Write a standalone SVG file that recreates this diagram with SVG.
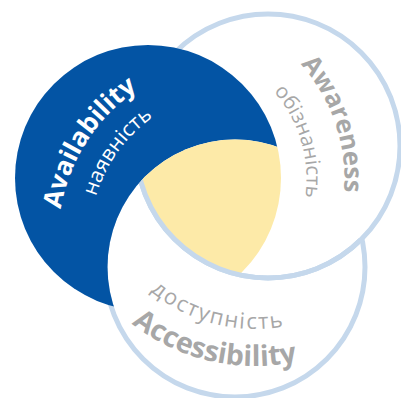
<svg xmlns="http://www.w3.org/2000/svg" width="401" height="398" viewBox="0 0 401 398">
<style>
.ring{fill:#fff;stroke:#c5d8ec;stroke-width:5}
.en{font-family:"Open Sans","Noto Sans","DejaVu Sans",sans-serif;font-weight:700}
.ua{font-family:"Open Sans","Noto Sans","DejaVu Sans",sans-serif;font-weight:400}
.gray{fill:#a7a7a7}
.white{fill:#fff}
</style>
<defs>
<clipPath id="cAw"><circle cx="268" cy="146" r="132"/></clipPath>
<clipPath id="cAcc"><circle cx="235" cy="267" r="127.5"/></clipPath>
<mask id="mBlue"><rect width="401" height="398" fill="#fff"/><circle cx="235" cy="267" r="127.5" fill="#000"/></mask>
<path id="pAvail" d="M59.44,262.81 A182,182 0 0 1 186.18,66.14"/>
<path id="pNayav" d="M89.91,251.15 A150.5,150.5 0 0 1 202.95,94.13"/>
<path id="pAware" d="M261.84,32.30 A171.5,171.5 0 0 1 332.89,241.01"/>
<path id="pObiz" d="M246.59,67.62 A133.5,133.5 0 0 1 295.47,232.13"/>
<path id="pAcc" d="M94.77,286.35 A201,201 0 0 0 346.72,343.85"/>
<path id="pDost" d="M121.38,260.09 A164,164 0 0 0 325.48,313.08"/>
</defs>
<g id="accessibility">
<circle class="ring" cx="235" cy="267" r="130"/>
<text class="en gray" font-size="28.5"><textPath href="#pAcc" startOffset="50%" text-anchor="middle">Accessibility</textPath></text>
<text class="ua gray" font-size="22" letter-spacing="1.7"><textPath href="#pDost" startOffset="50%" text-anchor="middle">доступність</textPath></text>
</g>
<g id="awareness">
<circle class="ring" cx="268" cy="146" r="132"/>
<text class="en gray" font-size="25.5"><textPath href="#pAware" startOffset="50%" text-anchor="middle">Awareness</textPath></text>
<text class="ua gray" font-size="20.5"><textPath href="#pObiz" startOffset="50%" text-anchor="middle">обізнаність</textPath></text>
</g>
<g id="availability">
<circle cx="148" cy="178" r="133" fill="#0354a4" mask="url(#mBlue)"/>
<text class="en white" font-size="26"><textPath href="#pAvail" startOffset="50%" text-anchor="middle">Availability</textPath></text>
<text class="ua white" font-size="21"><textPath href="#pNayav" startOffset="50%" text-anchor="middle">наявність</textPath></text>
</g>
<g id="intersection">
<g clip-path="url(#cAcc)"><circle cx="148" cy="178" r="133" fill="#fdeaa8" clip-path="url(#cAw)"/></g>
<g clip-path="url(#cAcc)"><circle cx="268" cy="146" r="132" fill="none" stroke="#c5d8ec" stroke-width="5"/></g>
</g>
</svg>
